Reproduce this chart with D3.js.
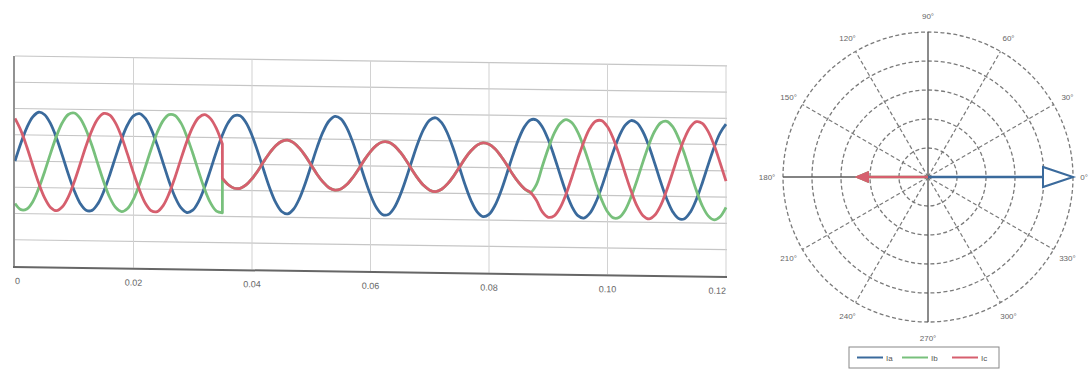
<!DOCTYPE html>
<html><head><meta charset="utf-8">
<script src="https://cdn.jsdelivr.net/npm/d3@7"></script>
<style>html,body{margin:0;padding:0;background:#fff}svg{display:block}</style>
</head><body>
<svg id="c" width="1089" height="371"></svg>
<script>
// ---------- data ----------
const sampleStep = 0.001;          // s between samples
const faultStart = 0.035;          // s, jump instant of Ib / Ic
const ia = [0,0.69,1.28,1.69,1.87,1.78,1.44,0.90,0.23,-0.47,-1.10,-1.58,-1.84,-1.84,-1.58,-1.10,-0.47,0.23,0.90,1.44,1.78,1.87,1.69,1.28,0.69,0,-0.69,-1.28,-1.69,-1.87,-1.78,-1.44,-0.90,-0.23,0.47,1.10,1.58,1.84,1.84,1.58,1.10,0.47,-0.23,-0.90,-1.44,-1.78,-1.87,-1.69,-1.28,-0.69,
  0,0.69,1.28,1.69,1.87,1.78,1.44,0.90,0.23,-0.47,-1.10,-1.58,-1.84,-1.84,-1.58,-1.10,-0.47,0.23,0.90,1.44,1.78,1.87,1.69,1.28,0.69,0,-0.69,-1.28,-1.69,-1.87,-1.78,-1.44,-0.90,-0.23,0.47,1.10,1.58,1.84,1.84,1.58,1.10,0.47,-0.23,-0.90,-1.44,-1.78,-1.87,-1.69,-1.28,-0.69,
  0,0.69,1.28,1.69,1.87,1.78,1.44,0.90,0.23,-0.47,-1.10,-1.58,-1.84,-1.84,-1.58,-1.10,-0.47,0.23,0.90,1.44,1.78];
const ib = [-1.62,-1.85,-1.82,-1.54,-1.03,-0.39,0.31,0.97,1.49,1.80,1.86,1.66,1.22,0.62,-0.08,-0.76,-1.34,-1.72,-1.87,-1.75,-1.39,-0.83,-0.16,0.54,1.16,1.62,1.85,1.82,1.54,1.03,0.39,-0.31,-0.97,-1.49,-1.80,
  -0.55,-0.79,-0.92,-0.92,-0.79,-0.55,-0.24,0.12,0.45,0.72,0.89,0.94,0.85,0.64,0.35,
  0,-0.35,-0.64,-0.85,-0.94,-0.89,-0.72,-0.45,-0.12,0.24,0.55,0.79,0.92,0.92,0.79,0.55,0.24,-0.12,-0.45,-0.72,-0.89,-0.94,-0.85,-0.64,-0.35,0,0.35,0.64,0.85,0.94,0.89,0.72,0.45,0.12,-0.24,-0.55,-0.79,-0.92,
  -0.62,0.08,0.76,1.34,1.72,1.87,1.75,1.39,0.83,0.16,-0.54,-1.16,
  -1.62,-1.85,-1.82,-1.54,-1.03,-0.39,0.31,0.97,1.49,1.80,1.86,1.66,1.22,0.62,-0.08,-0.76,-1.34,-1.72,-1.87,-1.75,-1.39];
const ic = [1.62,1.16,0.54,-0.16,-0.83,-1.39,-1.75,-1.87,-1.72,-1.34,-0.76,-0.08,0.62,1.22,1.66,1.86,1.80,1.49,0.97,0.31,-0.39,-1.03,-1.54,-1.82,-1.85,-1.62,-1.16,-0.54,0.16,0.83,1.39,1.75,1.87,1.72,1.34,
  -0.55,-0.79,-0.92,-0.92,-0.79,-0.55,-0.24,0.12,0.45,0.72,0.89,0.94,0.85,0.64,0.35,
  0,-0.35,-0.64,-0.85,-0.94,-0.89,-0.72,-0.45,-0.12,0.24,0.55,0.79,0.92,0.92,0.79,0.55,0.24,-0.12,-0.45,-0.72,-0.89,-0.94,-0.85,-0.64,-0.35,0,0.35,0.64,0.85,0.94,0.89,0.72,0.45,0.12,-0.24,-0.55,-0.79,-0.92,
  -1.22,-1.66,-1.86,-1.80,-1.49,-0.97,-0.31,0.39,1.03,1.54,1.82,1.85,
  1.62,1.16,0.54,-0.16,-0.83,-1.39,-1.75,-1.87,-1.72,-1.34,-0.76,-0.08,0.62,1.22,1.66,1.86,1.80,1.49,0.97,0.31,-0.39];
const valueBeforeJump = {ib: -1.86, ic: 0.76};
const xTicks = [0, 0.02, 0.04, 0.06, 0.08, 0.10, 0.12];
const xTickLabels = ["0", "0.02", "0.04", "0.06", "0.08", "0.10", "0.12"];
const yTicks = [-4, -3, -2, -1, 0, 1, 2, 3, 4];
const seriesNames = ["Ia", "Ib", "Ic"];
const seriesColors = ["#3a6a9c", "#78c07c", "#d65f6e"];
const phasorMagnitude = [1, 0.5, 0.5];
const phasorAngle = [0, 180, 180];
const ringValues = [0.2, 0.4, 0.6, 0.8, 1.0];
const spokeAngles = [0, 30, 60, 90, 120, 150, 180, 210, 240, 270, 300, 330];
const angleLabels = ["0°", "30°", "60°", "90°", "120°", "150°", "180°", "210°", "240°", "270°", "300°", "330°"];

// ---------- waveform chart ----------
const svg = d3.select("#c");
const font = "Liberation Sans, Arial, sans-serif";
const x = d3.scaleLinear().domain([0, 0.12]).range([15, 726]);
const y = d3.scaleLinear().domain([-4, 4]).range([266, 56]);
const skewDeg = 0.8;   // the scanned original is slightly sheared
const g = svg.append("g")
  .attr("transform", `translate(0,${-14 * Math.tan(skewDeg * Math.PI / 180)}) skewY(${skewDeg})`);

g.selectAll("line.hg").data(yTicks.slice(1)).join("line")
  .attr("x1", x(0)).attr("x2", 727).attr("y1", d => y(d)).attr("y2", d => y(d))
  .attr("stroke", "#c6c6c6").attr("stroke-width", 1.2);
g.selectAll("line.vg").data(xTicks.slice(1)).join("line")
  .attr("x1", d => x(d)).attr("x2", d => x(d)).attr("y1", y(4)).attr("y2", y(-4))
  .attr("stroke", "#d2d2d2").attr("stroke-width", 1);

const line = d3.line().x(d => x(d[0])).y(d => y(d[1])).curve(d3.curveCatmullRom.alpha(0.5));
const toPts = arr => arr.map((v, k) => [k * sampleStep, v]);
const kJump = Math.round(faultStart / sampleStep);
function jumpPath(arr, before) {
  const pts = toPts(arr);
  const a = pts.slice(0, kJump).concat([[faultStart, before]]);
  const b = pts.slice(kJump);
  return line(a) + line(b).replace(/^M/, "L");
}
const paths = [line(toPts(ia)), jumpPath(ib, valueBeforeJump.ib), jumpPath(ic, valueBeforeJump.ic)];
g.selectAll("path.s").data(paths).join("path")
  .attr("d", d => d).attr("fill", "none")
  .attr("stroke", (d, i) => seriesColors[i]).attr("stroke-width", 2.8)
  .attr("stroke-linejoin", "round");

// axes
g.append("line").attr("x1", x(0) - 1).attr("x2", x(0) - 1).attr("y1", y(4)).attr("y2", y(-4) + 1)
  .attr("stroke", "#777").attr("stroke-width", 1.6);
g.append("line").attr("x1", x(0) - 2).attr("x2", 727).attr("y1", y(-4) + 1).attr("y2", y(-4) + 1)
  .attr("stroke", "#666").attr("stroke-width", 2);
g.selectAll("text.xt").data(xTicks).join("text")
  .attr("x", d => x(d)).attr("y", 284)
  .attr("text-anchor", (d, i) => i === 0 ? "start" : (i === xTicks.length - 1 ? "end" : "middle"))
  .attr("font-family", font).attr("font-size", 9).attr("fill", "#666")
  .text((d, i) => xTickLabels[i]);

// ---------- polar phasor diagram ----------
const cx = 928, cy = 177;
const r = d3.scaleLinear().domain([0, 1]).range([0, 145]);
const p = svg.append("g").attr("transform", `translate(${cx},${cy})`);
p.selectAll("circle").data(ringValues).join("circle")
  .attr("r", d => r(d)).attr("fill", "none").attr("stroke", "#7a7a7a")
  .attr("stroke-width", 1.3).attr("stroke-dasharray", "4,2.5");
const rad = a => a * Math.PI / 180;
p.selectAll("line.sp").data(spokeAngles.filter(a => a % 90 !== 0)).join("line")
  .attr("x1", 0).attr("y1", 0)
  .attr("x2", a => r(1) * Math.cos(rad(a))).attr("y2", a => -r(1) * Math.sin(rad(a)))
  .attr("stroke", "#7a7a7a").attr("stroke-width", 1.2).attr("stroke-dasharray", "4,2.5");
p.selectAll("line.ax").data([0, 90]).join("line")
  .attr("x1", a => -r(1) * Math.cos(rad(a))).attr("y1", a => r(1) * Math.sin(rad(a)))
  .attr("x2", a => r(1) * Math.cos(rad(a))).attr("y2", a => -r(1) * Math.sin(rad(a)))
  .attr("stroke", "#5a5a5a").attr("stroke-width", 1.4);
p.selectAll("text.al").data(spokeAngles).join("text")
  .attr("x", a => a === 0 ? 160 : 161 * Math.cos(rad(a)))
  .attr("y", a => -161 * Math.sin(rad(a)) + 3)
  .attr("text-anchor", a => a === 0 ? "end" : "middle")
  .attr("font-family", font).attr("font-size", 8).attr("fill", "#666")
  .text((a, i) => angleLabels[i]);

// phasors: Ib first (hidden under Ic), then Ia, then Ic
[1, 0, 2].forEach(i => {
  const len = r(phasorMagnitude[i]), a = rad(phasorAngle[i]);
  const ux = Math.cos(a), uy = -Math.sin(a);
  const tipX = len * ux, tipY = len * uy;
  const open = i === 0;
  const ah = open ? 30 : 13, aw = open ? 10 : 5.5;
  const bx = tipX - ah * ux, by = tipY - ah * uy;
  p.append("line").attr("x1", 0).attr("y1", 0).attr("x2", open ? bx : tipX - 2 * ux).attr("y2", open ? by : tipY)
    .attr("stroke", seriesColors[i]).attr("stroke-width", 2.4);
  p.append("path")
    .attr("d", `M${tipX},${tipY}L${bx - aw * uy},${by + aw * ux}L${bx + aw * uy},${by - aw * ux}Z`)
    .attr("fill", open ? "#fff" : seriesColors[i]).attr("stroke", seriesColors[i])
    .attr("stroke-width", open ? 2 : 1).attr("stroke-linejoin", "miter");
});

// legend
const lg = svg.append("g").attr("transform", "translate(849,347)");
lg.append("rect").attr("width", 150).attr("height", 21).attr("fill", "#fff")
  .attr("stroke", "#888").attr("stroke-width", 1);
const legX = [8, 53, 103];
seriesNames.forEach((n, i) => {
  lg.append("line").attr("x1", legX[i]).attr("x2", legX[i] + 26).attr("y1", 10.5).attr("y2", 10.5)
    .attr("stroke", seriesColors[i]).attr("stroke-width", 2);
  lg.append("text").attr("x", legX[i] + 29).attr("y", 13.5).attr("font-family", font)
    .attr("font-size", 8).attr("fill", "#555").text(n);
});
</script>
</body></html>
